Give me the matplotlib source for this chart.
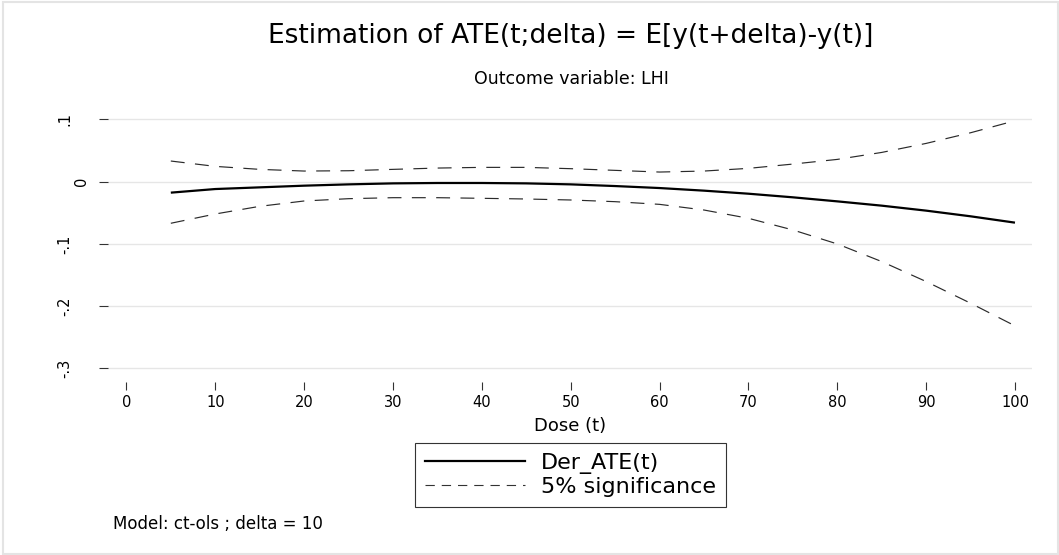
import matplotlib
matplotlib.use("Agg")
import matplotlib.pyplot as plt
from matplotlib.lines import Line2D
from matplotlib.patches import Rectangle
import matplotlib.transforms as mtransforms

plt.rcParams['font.family'] = ['DejaVu Sans']
plt.rcParams['lines.scale_dashes'] = False

# ---- data ----
dose = [5, 10, 15, 20, 25, 30, 35, 40, 45, 50, 55, 60, 65, 70, 75, 80, 85, 90, 95, 100]
der_ate = [-0.0176, -0.0118, -0.0091, -0.0064, -0.0043, -0.0027, -0.0021, -0.0021, -0.0027, -0.0043,
           -0.0070, -0.0102, -0.0144, -0.0193, -0.0251, -0.0316, -0.0385, -0.0465, -0.0556, -0.0658]
upper = [0.0332, 0.0246, 0.0198, 0.0171, 0.0176, 0.0198, 0.0219, 0.0230, 0.0230, 0.0209,
         0.0182, 0.0155, 0.0171, 0.0214, 0.0283, 0.0358, 0.0470, 0.0615, 0.0786, 0.0979]
lower = [-0.0668, -0.0519, -0.0396, -0.0310, -0.0273, -0.0257, -0.0257, -0.0267, -0.0278, -0.0294,
         -0.0321, -0.0364, -0.0455, -0.0588, -0.0775, -0.1000, -0.1283, -0.1604, -0.1952, -0.2316]

xticks = [0, 10, 20, 30, 40, 50, 60, 70, 80, 90, 100]
yticks = [-0.3, -0.2, -0.1, 0, 0.1]
ytick_labels = ['-.3', '-.2', '-.1', '0', '.1']

title = 'Estimation of ATE(t;delta) = E[y(t+delta)-y(t)]'
subtitle = 'Outcome variable: LHI'
xlabel = 'Dose (t)'
note = 'Model: ct-ols ; delta = 10'
legend_labels = ['Der_ATE(t)', '5% significance']

W, H = 1059, 555
fig = plt.figure(figsize=(W / 100, H / 100), dpi=100)
fig.patch.set_facecolor('white')

# outer graph-region outline
fig.patches.append(Rectangle((3 / W, 1.5 / H), (1058 - 3) / W, (553.5 - 1.5) / H,
                             transform=fig.transFigure, fill=False,
                             edgecolor='#e4e4e4', linewidth=1.5, zorder=0))

left, right = 108 / W, 1031.5 / W
bottom, top = 1 - 381.5 / H, 1 - 106 / H
ax = fig.add_axes([left, bottom, right - left, top - bottom])

ax.plot(dose, der_ate, color='black', linewidth=1.6, solid_capstyle='butt', zorder=3)
ax.plot(dose, upper, color='#2a2a2a', linewidth=0.85, dashes=(10, 7.5), zorder=3)
ax.plot(dose, lower, color='#2a2a2a', linewidth=0.85, dashes=(10, 7.5), zorder=3)

ax.set_xlim(-2.07, 101.86)
ax.set_ylim(-0.321, 0.1216)

for s in ax.spines.values():
    s.set_visible(False)

ax.set_xticks(xticks)
ax.set_xticklabels([str(v) for v in xticks])
ax.set_yticks(yticks)
ax.set_yticklabels(ytick_labels)
ax.grid(axis='y', color='#e6e6e6', linewidth=1.0, zorder=0)
ax.tick_params(axis='x', direction='out', length=6, width=0.8, color='#333333',
               pad=3.5, labelsize=10.5)
ax.tick_params(axis='y', direction='out', length=6.5, width=0.8, color='#333333',
               pad=19, labelsize=10.5)
for lab in ax.get_yticklabels():
    lab.set_rotation(90)
    lab.set_va('center')
    lab.set_ha('right')
    if lab.get_text() == '0':
        lab.set_transform(lab.get_transform() +
                          mtransforms.ScaledTranslation(12 / 72, 0, fig.dpi_scale_trans))

# titles and texts
fig.text(571 / W, 1 - 43.3 / H, title, ha='center', va='baseline', fontsize=19)
fig.text(571 / W, 1 - 83.5 / H, subtitle, ha='center', va='baseline', fontsize=12.5)
fig.text(570 / W, 1 - 430.7 / H, xlabel, ha='center', va='baseline', fontsize=13)
fig.text(113 / W, 1 - 529.3 / H, note, ha='left', va='baseline', fontsize=12)

handles = [Line2D([], [], color='black', linewidth=1.6),
           Line2D([], [], color='#333333', linewidth=0.8, dashes=(6.7, 5))]
leg = fig.legend(handles, legend_labels, loc='center',
                 bbox_to_anchor=(570.5 / W, 1 - 475 / H), fontsize=16,
                 frameon=True, fancybox=False, shadow=False, framealpha=1,
                 edgecolor='#333333', handlelength=4.5, handletextpad=0.7,
                 labelspacing=0.12, borderpad=0.45, borderaxespad=0)
leg.get_frame().set_linewidth(0.8)

fig.savefig('out.png', dpi=100, facecolor='white')
